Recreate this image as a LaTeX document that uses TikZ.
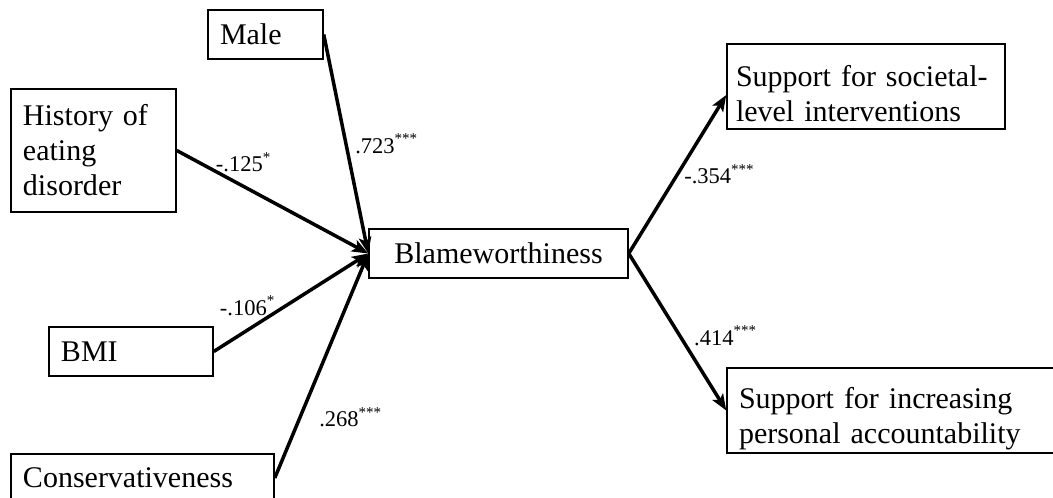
\documentclass[tikz,border=0pt]{standalone}
\usepackage{fontspec}
\setmainfont{Liberation Serif}
\usetikzlibrary{arrows.meta,positioning}

\tikzset{
  var/.style={draw, line width=0.6pt, inner xsep=4.8pt, inner ysep=0pt,
    align=left, font=\fontsize{12}{14}\selectfont},
  effect/.style={->, >={Stealth[length=6.5pt,width=5pt,inset=1.5pt]}, line width=1.4pt},
  coef/.style={font=\fontsize{9}{10}\selectfont, inner sep=3pt}
}

\begin{document}
\begin{tikzpicture}[x=0.4pt, y=-0.4pt]
  \clip (0, 0) rectangle (1053, 498);

  % predictors
  \node[var, text width=36.4pt, minimum height=19.6pt] (male) at (265.5, 34.5) {Male};
  \node[var, text width=56.4pt, minimum height=49.2pt] (history) at (93.5, 150.5) {History of\\eating\\disorder};
  \node[var, text width=56pt, minimum height=19.6pt] (bmi) at (131, 351.5) {BMI};
  \node[var, text width=95.6pt, minimum height=19.2pt] (conserv) at (142.5, 478) {Conservativeness};

  % mediator
  \node[var, align=center, minimum width=103.6pt, minimum height=19.6pt] (blame) at (498.5, 253.5) {Blameworthiness};

  % outcomes
  \node[var, inner xsep=3.6pt, text width=104pt, minimum height=34pt] (societal) at (866, 86.5)
    {\rule{0pt}{14pt}Support for societal-\\level interventions};
  \node[var, text width=126.4pt, minimum height=34pt] (account) at (897, 410.5)
    {\rule{0pt}{15pt}Support for increasing\\personal accountability};

  \draw[effect] (male.east) -- node[coef, right, pos=0.5] {.723\textsuperscript{***}} (blame.west);
  \draw[effect] (history.east) -- node[coef, above=2pt, pos=0.35] {-.125\textsuperscript{*}} (blame.west);
  \draw[effect] (bmi.east) -- node[coef, above=2pt, pos=0.22] {-.106\textsuperscript{*}} (blame.west);
  \draw[effect] (conserv.east) -- node[coef, right=4pt, pos=0.27] {.268\textsuperscript{***}} (blame.west);

  \draw[effect] (blame.east) -- node[coef, right=-1pt, pos=0.5] {-.354\textsuperscript{***}} ([yshift=-3.4pt]societal.west);
  \draw[effect] (blame.east) -- node[coef, right=2pt, pos=0.525] {.414\textsuperscript{***}} (account.west);
\end{tikzpicture}
\end{document}
